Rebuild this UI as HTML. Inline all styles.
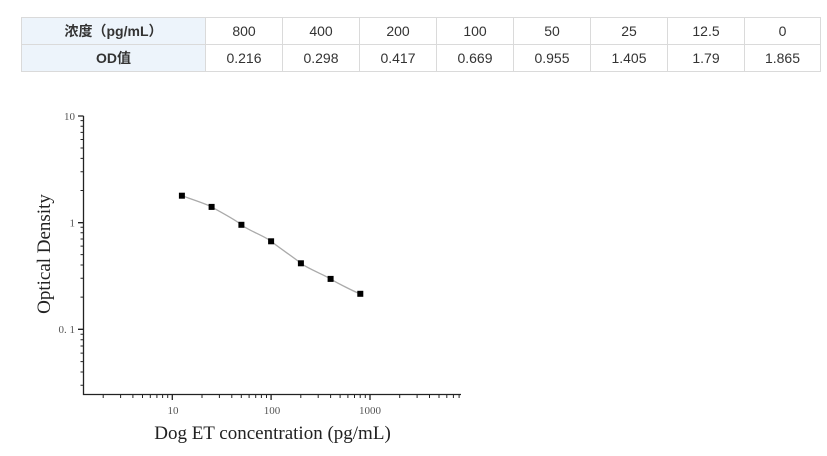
<!DOCTYPE html>
<html><head><meta charset="utf-8">
<style>
html,body{margin:0;padding:0;background:#fff;width:827px;height:456px;overflow:hidden;position:relative;}
.c{position:absolute;box-sizing:border-box;border:1px solid #dadada;display:flex;align-items:center;justify-content:center;font-family:"Liberation Sans","Noto Sans CJK SC",sans-serif;font-size:14px;color:#333;}
.h{background:#edf4fb;font-weight:bold;color:#333;}
</style></head><body>
<div class="c h" style="left:21px;top:17px;width:185px;height:28px;">浓度（pg/mL）</div>
<div class="c h" style="left:21px;top:44px;width:185px;height:28px;">OD值</div>

<div class="c" style="left:205px;top:17px;width:78px;height:28px;">800</div>
<div class="c" style="left:282px;top:17px;width:78px;height:28px;">400</div>
<div class="c" style="left:359px;top:17px;width:78px;height:28px;">200</div>
<div class="c" style="left:436px;top:17px;width:78px;height:28px;">100</div>
<div class="c" style="left:513px;top:17px;width:78px;height:28px;">50</div>
<div class="c" style="left:590px;top:17px;width:78px;height:28px;">25</div>
<div class="c" style="left:667px;top:17px;width:78px;height:28px;">12.5</div>
<div class="c" style="left:744px;top:17px;width:77px;height:28px;">0</div>

<div class="c" style="left:205px;top:44px;width:78px;height:28px;">0.216</div>
<div class="c" style="left:282px;top:44px;width:78px;height:28px;">0.298</div>
<div class="c" style="left:359px;top:44px;width:78px;height:28px;">0.417</div>
<div class="c" style="left:436px;top:44px;width:78px;height:28px;">0.669</div>
<div class="c" style="left:513px;top:44px;width:78px;height:28px;">0.955</div>
<div class="c" style="left:590px;top:44px;width:78px;height:28px;">1.405</div>
<div class="c" style="left:667px;top:44px;width:78px;height:28px;">1.79</div>
<div class="c" style="left:744px;top:44px;width:77px;height:28px;">1.865</div>

<svg width="827" height="456" style="position:absolute;left:0;top:0" xmlns="http://www.w3.org/2000/svg">
<g stroke="#222" stroke-width="1.3" fill="none">
<path d="M83.5 116 V394.5 H461"/>
<path d="M78 116 H83.5 M78 222.7 H83.5 M78 329.3 H83.5"/>
<path stroke-width="1" d="
M80.5 190.5 H83.5 M80.5 171.7 H83.5 M80.5 158.4 H83.5 M80.5 148 H83.5 M80.5 139.5 H83.5 M80.5 132.4 H83.5 M80.5 126.2 H83.5 M80.5 120.6 H83.5
M80.5 297.1 H83.5 M80.5 278.3 H83.5 M80.5 265 H83.5 M80.5 254.6 H83.5 M80.5 246.1 H83.5 M80.5 239 H83.5 M80.5 232.8 H83.5 M80.5 227.2 H83.5
M80.5 334.2 H83.5 M80.5 339.8 H83.5 M80.5 346 H83.5 M80.5 353.1 H83.5 M80.5 361.6 H83.5 M80.5 372 H83.5 M80.5 385.3 H83.5"/>
<path d="M172.3 394.5 V400 M271.1 394.5 V400 M370 394.5 V400"/>
<path stroke-width="1" d="
M103.2 394.5 V398 M120.6 394.5 V398 M132.9 394.5 V398 M142.5 394.5 V398 M150.3 394.5 V398 M156.9 394.5 V398 M162.6 394.5 V398 M167.7 394.5 V398
M202 394.5 V398 M219.4 394.5 V398 M231.8 394.5 V398 M241.3 394.5 V398 M249.1 394.5 V398 M255.7 394.5 V398 M261.4 394.5 V398 M266.5 394.5 V398
M300.8 394.5 V398 M318.2 394.5 V398 M330.6 394.5 V398 M340.1 394.5 V398 M347.9 394.5 V398 M354.5 394.5 V398 M360.2 394.5 V398 M365.3 394.5 V398
M399.7 394.5 V398 M417.1 394.5 V398 M429.5 394.5 V398 M439 394.5 V398 M446.8 394.5 V398 M453.4 394.5 V398 M459.1 394.5 V398"/>
</g>
<g font-family="Liberation Serif, serif" font-size="11" fill="#555">
<text x="75" y="120" text-anchor="end">10</text>
<text x="75" y="226.5" text-anchor="end">1</text>
<text x="75" y="333" text-anchor="end">0. 1</text>
<text x="173" y="414" text-anchor="middle">10</text>
<text x="272" y="414" text-anchor="middle">100</text>
<text x="370" y="414" text-anchor="middle">1000</text>
</g>
<text x="272.5" y="439" text-anchor="middle" font-family="Liberation Serif, serif" font-size="19" fill="#222">Dog ET concentration (pg/mL)</text>
<text transform="translate(50,254) rotate(-90)" text-anchor="middle" font-family="Liberation Serif, serif" font-size="19" fill="#222">Optical Density</text>
<path d="M181.9 195.7 C186.9 197.6 206.6 203.9 211.6 206.9 C216.6 209.9 236.4 220.2 241.4 224.8 C246.4 229.4 266.1 236.9 271.1 241.3 C276.1 245.7 295.9 258.9 300.9 263.3 C305.9 267.7 325.6 275.7 330.6 278.9 C335.6 282.1 355.3 292.3 360.3 293.8" stroke="#aaa" stroke-width="1.3" fill="none"/>
<g fill="#000">
<rect x="178.9" y="192.7" width="6" height="6"/>
<rect x="208.6" y="203.9" width="6" height="6"/>
<rect x="238.4" y="221.8" width="6" height="6"/>
<rect x="268.1" y="238.3" width="6" height="6"/>
<rect x="297.9" y="260.3" width="6" height="6"/>
<rect x="327.6" y="275.9" width="6" height="6"/>
<rect x="357.3" y="290.8" width="6" height="6"/>
</g>
</svg>
</body></html>
